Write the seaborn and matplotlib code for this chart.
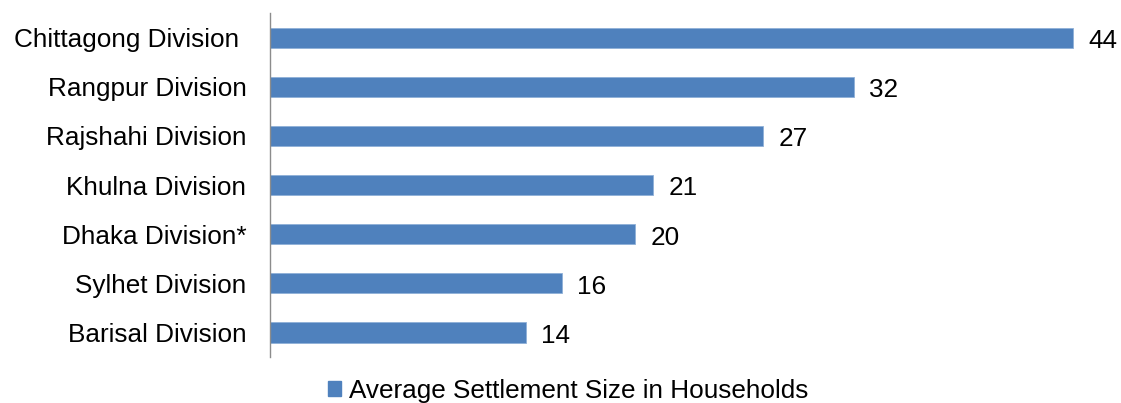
import pandas as pd
import matplotlib.pyplot as plt
import seaborn as sns
from matplotlib.patches import Patch

# Data
divisions = ['Chittagong Division ', 'Rangpur Division', 'Rajshahi Division', 'Khulna Division',
             'Dhaka Division*', 'Sylhet Division', 'Barisal Division']
settlement_size = [44, 32, 27, 21, 20, 16, 14]
series_name = 'Average Settlement Size in Households'

df = pd.DataFrame({'Division': divisions, 'Size': settlement_size})

sns.set_style('white')
plt.rcParams['font.family'] = ['Liberation Sans', 'DejaVu Sans']
plt.rcParams['text.color'] = 'black'

bar_color = '#4F81BD'

fig = plt.figure(figsize=(11.21, 4.03), dpi=100)
ax = fig.add_axes([0.2409, 0.1141, 0.749, 0.8536])

sns.barplot(data=df, x='Size', y='Division', orient='h', color=bar_color,
            width=0.41, saturation=1, edgecolor='#8fb0d8', linewidth=0.6, ax=ax)

ax.set_xlim(0, 46)
ax.set_ylim(6.5, -0.5)
ax.set_xlabel('')
ax.set_ylabel('')
ax.set_xticks([])
ax.tick_params(axis='y', length=0, pad=17, labelsize=18.8, labelcolor='black')

for side in ['top', 'right', 'bottom']:
    ax.spines[side].set_visible(False)
ax.spines['left'].set_color('#8c8c8c')
ax.spines['left'].set_linewidth(1)

labels = ax.bar_label(ax.containers[0], labels=[str(v) for v in settlement_size],
                      padding=11, fontsize=18.8, color='black')
# nudge value labels a little below bar centre, like the original
for t in labels:
    t.xyann = (11, -2.5)

handle = Patch(facecolor=bar_color, edgecolor=bar_color)
fig.legend([handle], [series_name], loc='center', bbox_to_anchor=(0.507, 0.03),
           frameon=False, fontsize=18.8, handlelength=0.5, handleheight=0.5,
           handletextpad=0.3, borderaxespad=0, labelcolor='black')

fig.savefig('out.png', dpi=100)
